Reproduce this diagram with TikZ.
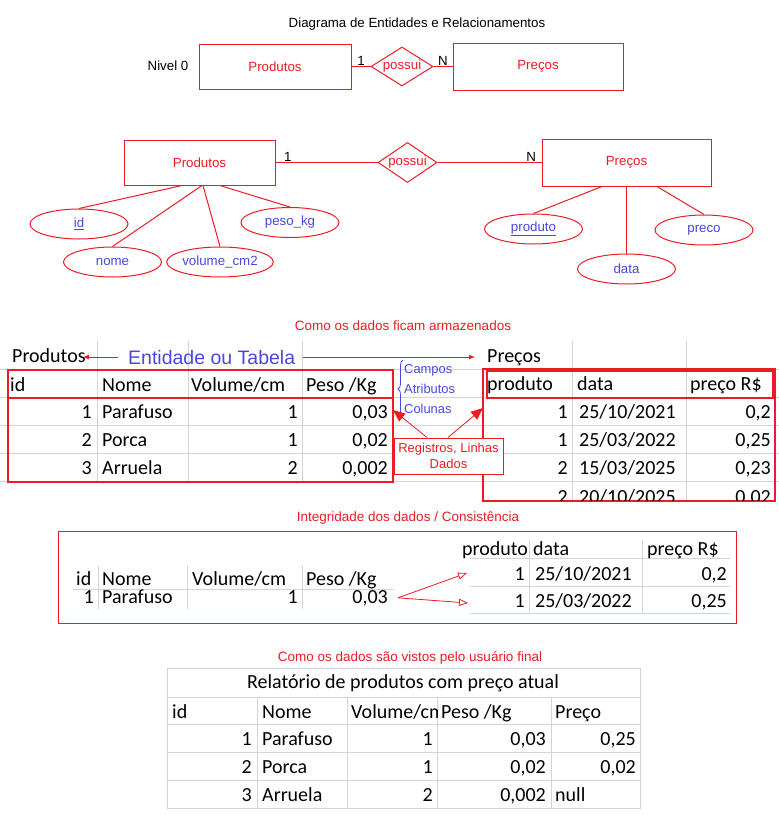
\documentclass[tikz,border=0pt]{standalone}
\usepackage{fontspec}
\setmainfont{Liberation Sans}
\newfontfamily\calibri{Carlito}
\usepackage{tikz}
\usetikzlibrary{shapes.geometric,arrows.meta,decorations.pathreplacing,positioning}

\definecolor{erred}{RGB}{237,28,36}
\definecolor{erblue}{RGB}{72,72,224}
\definecolor{gridgray}{RGB}{212,212,212}

\begin{document}
\begin{tikzpicture}[x=1pt,y=-1pt,on grid,
    every node/.style={font=\fontsize{13.3}{16}\selectfont},
    entity/.style={draw=erred,text=erred,line width=1pt,inner sep=0pt},
    relation/.style={diamond,aspect=1.6,draw=erred,text=erred,line width=1pt,inner sep=0pt},
    attrib/.style={ellipse,draw=erred,text=erblue,line width=1pt,inner sep=0pt,minimum width=98pt,minimum height=30pt},
    card/.style={inner sep=1pt},
    sectitle/.style={text=erred,font=\fontsize{13.5}{16}\selectfont},
    note/.style={text=erblue,font=\fontsize{12.9}{15}\selectfont,inner sep=0pt,anchor=west},
    cell/.style={font=\calibri\fontsize{20}{24}\selectfont,inner sep=0pt,anchor=base west},
    num/.style={cell,anchor=base east},
    xlgrid/.style={draw=gridgray,line width=1pt},
    tabframe/.style={draw=erred,line width=1.6pt,inner sep=0pt,anchor=north west},
    tabarrow/.style={color=erred,line width=1pt,-{Latex[length=6pt,width=5pt]}},
    pointarrow/.style={color=erred,line width=0.8pt,-{Triangle[length=12pt,width=10pt]}},
    linkarrow/.style={color=erred,line width=0.8pt,-{Triangle[open,length=9pt,width=7pt]}}]
  \fill[white] (0,0) rectangle (779,833);
  \useasboundingbox (0,0) rectangle (779,833);

  % nivel 0
  \node (title) at (417,24) {Diagrama de Entidades e Relacionamentos};
  \node (nivel) at (168,66) {Nivel 0};
  \node[entity,minimum width=152pt,minimum height=45pt] (prod0) at (275,66.5) {Produtos};
  \node[relation,minimum width=62pt,minimum height=39pt] (rel0) [right=127pt of prod0] {possui};
  \node[entity,minimum width=170pt,minimum height=47pt] (prec0) [right=136pt of rel0] {Preços};
  \path[draw=erred,line width=1pt]
  (prod0) edge node[card,above] {1} (rel0)
  (rel0) edge node[card,above] {N} (prec0);

  % nivel 1
  \node[entity,minimum width=151pt,minimum height=45pt] (prod1) at (199.5,162.5) {Produtos};
  \node[relation,minimum width=59pt,minimum height=40pt] (rel1) [right=208pt of prod1] {possui};
  \node[entity,minimum width=169pt,minimum height=47pt] (prec1) [right=219pt of rel1] {Preços};
  \node[attrib] (aid)    [below left=61.5pt and 120.5pt of prod1] {\underline{id}};
  \node[attrib] (anome)  [below left=99.5pt and 87pt of prod1]    {nome};
  \node[attrib] (avol)   [below right=99.5pt and 20.5pt of prod1] {volume\_cm2};
  \node[attrib] (apeso)  [below right=60pt and 90.5pt of prod1]   {peso\_kg};
  \node[attrib] (aprod)  [below left=66.5pt and 93pt of prec1]    {\underline{produto}};
  \node[attrib] (adata)  [below=106.5pt of prec1]                 {data};
  \node[attrib] (apreco) [below right=67.5pt and 77.5pt of prec1] {preco};
  \path[draw=erred,line width=1pt]
  (prod1) edge node[card,above,pos=0.12] {1} (rel1)
  (rel1) edge node[card,above,pos=0.9] {N} (prec1)
  % atributos
  ([xshift=-17.5pt]prod1.south) edge (aid.north)
  ([xshift=2.5pt]prod1.south) edge (anome.north)
  ([xshift=3.5pt]prod1.south) edge (avol.north)
  ([xshift=20.5pt]prod1.south) edge (apeso.north)
  ([xshift=-24.5pt]prec1.south) edge (aprod.north)
  (prec1.south) edge (adata.north)
  ([xshift=30.5pt]prec1.south) edge (apreco.north);

  % como os dados ficam armazenados
  \node[sectitle] (armaz) at (403,326) {Como os dados ficam armazenados};
  \draw[xlgrid] (0,369) -- (779,369) (0,397) -- (779,397) (0,425) -- (779,425)
    (0,453) -- (779,453) (0,481) -- (779,481);
  \draw[xlgrid] (97,341) -- (97,481) (188,341) -- (188,481) (302,341) -- (302,481)
    (572,341) -- (572,500) (686,341) -- (686,500);
  \node[cell] (lblprod) at (12,362) {Produtos};
  \node[cell] (lblprec) at (487,362) {Preços};
  \node[inner sep=0pt,anchor=base west,text=erblue,font=\fontsize{19.5}{22}\selectfont] (ent) at (128,364) {Entidade ou Tabela};
  \draw[tabarrow,shorten <=10pt,shorten >=-3pt] (ent.west) -- (ent.west -| lblprod.east);
  \draw[tabarrow,shorten <=8pt,shorten >=12pt] (ent.east) -- (ent.east -| lblprec.west);

  \node[tabframe,minimum width=385pt,minimum height=112pt] (tprod) at (7,369) {};
  \node[tabframe,minimum width=385pt,minimum height=28pt] (hprod) at (7,369) {};
  \node[cell] (hid) at (10,391) {id};
  \node[cell] (hnome) at (102,391) {Nome};
  \node[cell] (hvol) at (191,391) {Volume/cm};
  \node[cell] (hpeso) at (306,391) {Peso /Kg};
  \node[num] (id1) at (92,418) {1};
  \node[cell] (nome1) at (102,418) {Parafuso};
  \node[num] (vol1) at (298,418) {1};
  \node[num] (peso1) at (388,418) {0,03};
  \node[num] (id2) at (92,446) {2};
  \node[cell] (nome2) at (102,446) {Porca};
  \node[num] (vol2) at (298,446) {1};
  \node[num] (peso2) at (388,446) {0,02};
  \node[num] (id3) at (92,474) {3};
  \node[cell] (nome3) at (102,474) {Arruela};
  \node[num] (vol3) at (298,474) {2};
  \node[num] (peso3) at (388,474) {0,002};

  \node[tabframe,minimum width=292pt,minimum height=132pt] (tprec) at (482,368) {};
  \node[tabframe,minimum width=286pt,minimum height=27pt] (hprec) at (486,370) {};
  \node[cell] (hprod) at (487,390) {produto};
  \node[cell] (hdata) at (577,390) {data};
  \node[cell] (hpreco) at (690,390) {preço R\$};
  \node[num] (pr1) at (568,418) {1};
  \node[cell] (dt1) at (579,418) {25/10/2021};
  \node[num] (vl1) at (771,418) {0,2};
  \node[num] (pr2) at (568,446) {1};
  \node[cell] (dt2) at (579,446) {25/03/2022};
  \node[num] (vl2) at (771,446) {0,25};
  \node[num] (pr3) at (568,474) {2};
  \node[cell] (dt3) at (579,474) {15/03/2025};
  \node[num] (vl3) at (771,474) {0,23};
  \begin{scope}
    \clip (482,368) rectangle (774,500);
    \node[num] (pr4) at (568,503) {2};
    \node[cell] (dt4) at (579,503) {20/10/2025};
    \node[num] (vl4) at (771,503) {0,02};
  \end{scope}

  % campos / registros
  \draw[erblue,line width=0.8pt,decorate,decoration={brace,amplitude=5pt}] (403,418) -- (403,360);
  \node[note] (campos) at (404,370) {Campos};
  \node[note] (atrib) at (404,389) {Atributos};
  \node[note] (colunas) at (404,409) {Colunas};
  \node[draw=erred,fill=white,text=erred,line width=1pt,align=center,inner sep=1pt,
    font=\fontsize{13}{16}\selectfont,minimum width=109pt,minimum height=36pt] (reg) at (448.5,456) {Registros, Linhas\\Dados};
  \coordinate (tipl) at (393,410);
  \coordinate (tipr) at (483,408);
  \draw[pointarrow] ([xshift=-21.5pt]reg.north) -- (tipl);
  \draw[pointarrow] ([xshift=-0.5pt]reg.north) -- (tipr);

  % integridade
  \node[sectitle] (integ) at (408,518) {Integridade dos dados / Consistência};
  \node[draw=erred,line width=1pt,inner sep=0pt,anchor=north west,minimum width=678pt,minimum height=92pt] (ibox) at (58,531) {};
  \draw[xlgrid] (73,589) -- (394,589) (98,566) -- (98,609) (187,566) -- (187,609) (302,566) -- (302,609);
  \draw[xlgrid] (470,558) -- (730,558) (470,586) -- (730,586) (470,613) -- (730,613)
    (529,540) -- (529,613) (642,540) -- (642,613);
  \node[cell] (ihid) at (76,585) {id};
  \node[cell] (ihnome) at (102,585) {Nome};
  \node[cell] (ihvol) at (192,585) {Volume/cm};
  \node[cell] (ihpeso) at (306,585) {Peso /Kg};
  \node[num] (iid) at (94,603) {1};
  \node[cell] (inome) at (102,603) {Parafuso};
  \node[num] (ivol) at (298,603) {1};
  \node[num] (ipeso) at (388,603) {0,03};
  \node[cell] (ihprod) at (462,555) {produto};
  \node[cell] (ihdata) at (533,555) {data};
  \node[cell] (ihpreco) at (647,555) {preço R\$};
  \node[num] (ipr1) at (525,580) {1};
  \node[cell] (idt1) at (535,580) {25/10/2021};
  \node[num] (ivl1) at (727,580) {0,2};
  \node[num] (ipr2) at (525,607) {1};
  \node[cell] (idt2) at (535,607) {25/03/2022};
  \node[num] (ivl2) at (727,607) {0,25};
  \coordinate (lk1) at (467,573);
  \coordinate (lk2) at (468,603);
  \draw[linkarrow] ([xshift=10pt]ipeso.east) -- (lk1);
  \draw[linkarrow] ([xshift=10pt]ipeso.east) -- (lk2);

  % usuario final
  \node[sectitle] (vistos) at (410,658) {Como os dados são vistos pelo usuário final};
  \draw[xlgrid] (167,668) rectangle (640,808) (167,697) -- (640,697) (167,724) -- (640,724)
    (167,752) -- (640,752) (167,780) -- (640,780)
    (257,697) -- (257,808) (347,697) -- (347,808) (437,697) -- (437,808) (551,697) -- (551,808);
  \node[cell,anchor=base] (rtitle) at (403,688) {Relatório de produtos com preço atual};
  \node[cell] (rhid) at (172,718) {id};
  \node[cell] (rhnome) at (262,718) {Nome};
  \begin{scope}
    \clip (347,697) rectangle (437,724);
    \node[cell] (rhvol) at (351,718) {Volume/cm};
  \end{scope}
  \node[cell] (rhpeso) at (441,718) {Peso /Kg};
  \node[cell] (rhpreco) at (555,718) {Preço};
  \node[num] (rid1) at (252,745) {1};
  \node[cell] (rnome1) at (262,745) {Parafuso};
  \node[num] (rvol1) at (433,745) {1};
  \node[num] (rpeso1) at (546,745) {0,03};
  \node[num] (rpreco1) at (636,745) {0,25};
  \node[num] (rid2) at (252,773) {2};
  \node[cell] (rnome2) at (262,773) {Porca};
  \node[num] (rvol2) at (433,773) {1};
  \node[num] (rpeso2) at (546,773) {0,02};
  \node[num] (rpreco2) at (636,773) {0,02};
  \node[num] (rid3) at (252,801) {3};
  \node[cell] (rnome3) at (262,801) {Arruela};
  \node[num] (rvol3) at (433,801) {2};
  \node[num] (rpeso3) at (546,801) {0,002};
  \node[cell] (rpreco3) at (555,801) {null};
\end{tikzpicture}
\end{document}
